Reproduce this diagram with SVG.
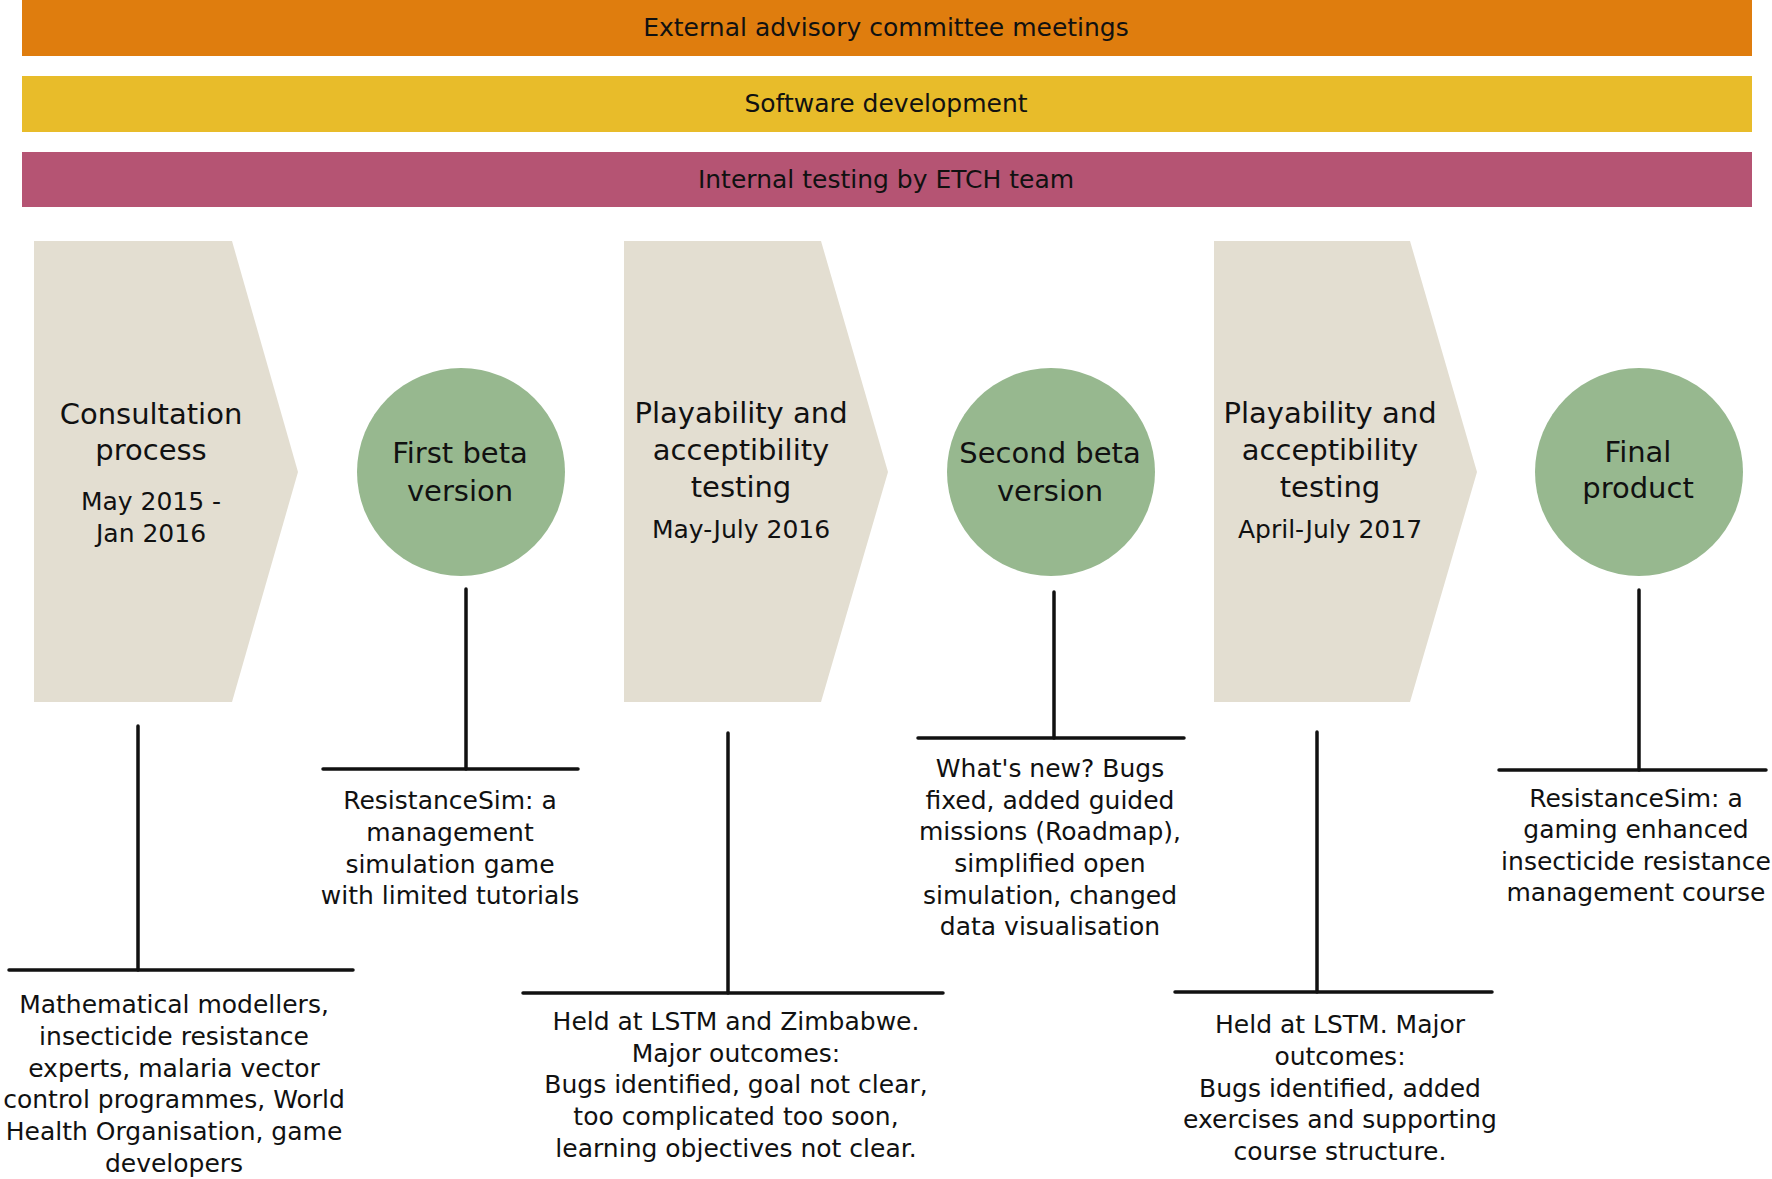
<svg xmlns="http://www.w3.org/2000/svg" width="1772" height="1179" viewBox="0 0 1772 1179">
<style>
text { font-family: "DejaVu Sans", Verdana, sans-serif; fill: #111; text-anchor: middle; }
.bar { font-size: 25px; }
.title { font-size: 29px; }
.small { font-size: 25px; }
.chev { fill: #E3DED1; }
.circ { fill: #97B88F; }
.conn line { stroke: #111; stroke-width: 3.5; stroke-linecap: round; }
</style>
<rect width="1772" height="1179" fill="#fff"/>
<g id="bar-external">
<rect x="22" y="0" width="1730" height="56" fill="#DF7D0E"/>
<text class="bar" x="886" y="36">External advisory committee meetings</text>
</g>
<g id="bar-software">
<rect x="22" y="76" width="1730" height="56" fill="#E8BC2A"/>
<text class="bar" x="886" y="112">Software development</text>
</g>
<g id="bar-internal">
<rect x="22" y="152" width="1730" height="55" fill="#B55473"/>
<text class="bar" x="886" y="188">Internal testing by ETCH team</text>
</g>

<g id="consultation">
<polygon class="chev" points="34,241 232,241 298,472 232,702 34,702"/>
<text class="title" x="151" y="424">Consultation</text>
<text class="title" x="151" y="460">process</text>
<text class="small" x="151" y="510">May 2015 -</text>
<text class="small" x="151" y="542">Jan 2016</text>
</g>
<g id="first-beta">
<circle class="circ" cx="461" cy="472" r="104"/>
<text class="title" x="460" y="463">First beta</text>
<text class="title" x="460" y="501">version</text>
</g>
<g id="testing-2016">
<polygon class="chev" points="624,241 821,241 888,472 821,702 624,702"/>
<text class="title" x="741" y="423">Playability and</text>
<text class="title" x="741" y="460">acceptibility</text>
<text class="title" x="741" y="497">testing</text>
<text class="small" x="741" y="538">May-July 2016</text>
</g>
<g id="second-beta">
<circle class="circ" cx="1051" cy="472" r="104"/>
<text class="title" x="1050" y="463">Second beta</text>
<text class="title" x="1050" y="501">version</text>
</g>
<g id="testing-2017">
<polygon class="chev" points="1214,241 1410,241 1477,472 1410,702 1214,702"/>
<text class="title" x="1330" y="423">Playability and</text>
<text class="title" x="1330" y="460">acceptibility</text>
<text class="title" x="1330" y="497">testing</text>
<text class="small" x="1330" y="538">April-July 2017</text>
</g>
<g id="final-product">
<circle class="circ" cx="1639" cy="472" r="104"/>
<text class="title" x="1638" y="462">Final</text>
<text class="title" x="1638" y="498">product</text>
</g>

<g id="connectors" class="conn">
<line x1="138" y1="726" x2="138" y2="970"/>
<line x1="9" y1="970" x2="353" y2="970"/>
<line x1="466" y1="589" x2="466" y2="769"/>
<line x1="323" y1="769" x2="578" y2="769"/>
<line x1="728" y1="733" x2="728" y2="993"/>
<line x1="523" y1="993" x2="943" y2="993"/>
<line x1="1054" y1="592" x2="1054" y2="738"/>
<line x1="918" y1="738" x2="1184" y2="738"/>
<line x1="1317" y1="732" x2="1317" y2="992"/>
<line x1="1175" y1="992" x2="1492" y2="992"/>
<line x1="1639" y1="590" x2="1639" y2="770"/>
<line x1="1499" y1="770" x2="1766" y2="770"/>
</g>

<g id="note-consultation">
<text class="small" x="174" y="1013">Mathematical modellers,</text>
<text class="small" x="174" y="1045">insecticide resistance</text>
<text class="small" x="174" y="1077">experts, malaria vector</text>
<text class="small" x="174" y="1108">control programmes, World</text>
<text class="small" x="174" y="1140">Health Organisation, game</text>
<text class="small" x="174" y="1172">developers</text>
</g>
<g id="note-first-beta">
<text class="small" x="450" y="809">ResistanceSim: a</text>
<text class="small" x="450" y="841">management</text>
<text class="small" x="450" y="873">simulation game</text>
<text class="small" x="450" y="904">with limited tutorials</text>
</g>
<g id="note-testing-2016">
<text class="small" x="736" y="1030">Held at LSTM and Zimbabwe.</text>
<text class="small" x="736" y="1062">Major outcomes:</text>
<text class="small" x="736" y="1093">Bugs identified, goal not clear,</text>
<text class="small" x="736" y="1125">too complicated too soon,</text>
<text class="small" x="736" y="1157">learning objectives not clear.</text>
</g>
<g id="note-second-beta">
<text class="small" x="1050" y="777">What's new? Bugs</text>
<text class="small" x="1050" y="809">fixed, added guided</text>
<text class="small" x="1050" y="840">missions (Roadmap),</text>
<text class="small" x="1050" y="872">simplified open</text>
<text class="small" x="1050" y="904">simulation, changed</text>
<text class="small" x="1050" y="935">data visualisation</text>
</g>
<g id="note-testing-2017">
<text class="small" x="1340" y="1033">Held at LSTM. Major</text>
<text class="small" x="1340" y="1065">outcomes:</text>
<text class="small" x="1340" y="1097">Bugs identified, added</text>
<text class="small" x="1340" y="1128">exercises and supporting</text>
<text class="small" x="1340" y="1160">course structure.</text>
</g>
<g id="note-final">
<text class="small" x="1636" y="807">ResistanceSim: a</text>
<text class="small" x="1636" y="838">gaming enhanced</text>
<text class="small" x="1636" y="870">insecticide resistance</text>
<text class="small" x="1636" y="901">management course</text>
</g>
</svg>
